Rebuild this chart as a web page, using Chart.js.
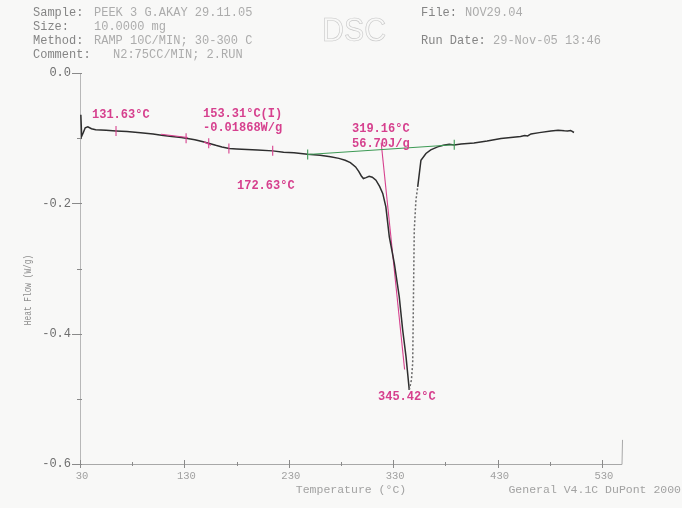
<!DOCTYPE html>
<html>
<head>
<meta charset="utf-8">
<script src="https://cdn.jsdelivr.net/npm/chart.js@4.4.1/dist/chart.umd.min.js"></script>
<style>
html,body{margin:0;padding:0;background:#f8f8f7}
#wrap{position:relative;width:682px;height:508px}
</style>
</head>
<body>
<div id="wrap"><canvas id="dsc"></canvas></div>
<script>
// ---- DSC run data: temperature (°C) vs heat flow (W/g) ----
const temps=[30.8,31.6,33.0,35.0,37.5,41,45,55,64.5,75,88,100,108,118,127,133,140,147,154,160,166,173,180,190,200,214.6,225,235,248,260,270,278,284,289,294,297,299.5,301.5,304,307,310,313.5,317,320,323,326.3,331.1,335.8,339.1,342.3,345.42,347.5,348.7,349.4,350.2,351.8,353.5,356.6,361.4,366,372.6,378,383.7,388.5,395,407.4,420,433.3,445,452,456,458.8,462,470,481.1,488,494,497.1,500,503.2];
const heatFlow=[-0.064,-0.097,-0.092,-0.084,-0.0825,-0.0855,-0.0870,-0.0878,-0.0889,-0.0898,-0.0917,-0.0935,-0.0955,-0.0975,-0.0990,-0.1005,-0.1025,-0.1050,-0.1082,-0.1110,-0.1135,-0.1159,-0.1165,-0.1174,-0.1180,-0.1195,-0.1215,-0.1225,-0.1246,-0.1261,-0.1285,-0.1310,-0.1340,-0.1375,-0.1441,-0.1510,-0.1580,-0.1620,-0.1605,-0.1585,-0.1600,-0.1644,-0.1740,-0.1848,-0.2054,-0.2513,-0.2921,-0.3433,-0.3943,-0.4352,-0.4863,-0.4709,-0.4449,-0.3483,-0.2411,-0.1950,-0.1747,-0.1338,-0.1235,-0.1180,-0.1134,-0.1110,-0.1093,-0.1105,-0.1090,-0.1073,-0.1045,-0.1005,-0.0985,-0.0975,-0.0960,-0.0965,-0.0935,-0.0915,-0.0889,-0.0880,-0.0887,-0.0889,-0.0882,-0.0913];

// melting peak integration baseline (green)
const baseT=[248.1,388.5];
const baseQ=[-0.1250,-0.1100];
// onset tangent (magenta)
const onsetT=[318.5,340.95];
const onsetQ=[-0.107,-0.455];
// glass transition tangents
const tgTanA_T=[107.6,133.2], tgTanA_Q=[-0.0940,-0.0990];
const tgTanB_T=[148.8,155.5], tgTanB_Q=[-0.1057,-0.1108];
// analysis cursors
const tgCursors=[64.5,131.63,153.31,172.63,214.6];
const peakCursors=[248.1,388.5];

// axes
const xMajor=[30,130,230,330,430,530];
const xMinor=[80,180,280,380,480];
const yMajor=[0,-0.2,-0.4,-0.6];
const yMajorLabels=['0.0','-0.2','-0.4','-0.6'];
const yMinor=[-0.1,-0.3,-0.5];

const MAGENTA='#d6408e', GREEN='#3d9a55', INK='#2e2e2e';
const MONO='"Liberation Mono","DejaVu Sans Mono",monospace';

function pts(xs,ys){return xs.map((x,i)=>({x,y:ys[i]}))}
function curveAt(t){
  for(let i=1;i<temps.length;i++){
    if(temps[i]>=t){const f=(t-temps[i-1])/(temps[i]-temps[i-1]);return heatFlow[i-1]+f*(heatFlow[i]-heatFlow[i-1])}
  }
  return heatFlow[heatFlow.length-1];
}
function baseAt(t){return baseQ[0]+(t-baseT[0])/(baseT[1]-baseT[0])*(baseQ[1]-baseQ[0])}

const frame={
  id:'frame',
  beforeDatasetsDraw(chart){
    const c=chart.ctx,xs=chart.scales.x,ys=chart.scales.y;
    const L=xs.getPixelForValue(30),R=xs.right,T=ys.getPixelForValue(0),B=ys.getPixelForValue(-0.6);
    c.save();
    // left axis
    c.strokeStyle='#b8b8b8';c.lineWidth=1;
    c.beginPath();c.moveTo(L+0.5,T);c.lineTo(L+0.5,B);c.stroke();
    // bottom axis + short right edge
    c.strokeStyle='#a8a8a8';
    c.beginPath();c.moveTo(L,B+0.5);c.lineTo(R,B+0.5);c.lineTo(R+0.5,ys.getPixelForValue(-0.563));c.stroke();
    // y ticks
    c.strokeStyle='#8a8a8a';
    yMajor.forEach(v=>{const y=Math.round(ys.getPixelForValue(v))+0.5;c.beginPath();c.moveTo(L-8,y);c.lineTo(L+2,y);c.stroke()});
    yMinor.forEach(v=>{const y=Math.round(ys.getPixelForValue(v))+0.5;c.beginPath();c.moveTo(L-3,y);c.lineTo(L+2,y);c.stroke()});
    // x ticks
    xMajor.forEach(v=>{const x=Math.round(xs.getPixelForValue(v))+0.5;c.beginPath();c.moveTo(x,B-4);c.lineTo(x,B+4);c.stroke()});
    xMinor.forEach(v=>{const x=Math.round(xs.getPixelForValue(v))+0.5;c.beginPath();c.moveTo(x,B-2);c.lineTo(x,B+2);c.stroke()});
    // tick labels
    c.font='12px '+MONO;c.fillStyle='#6e6e6e';c.textAlign='right';c.textBaseline='middle';
    yMajor.forEach((v,i)=>c.fillText(yMajorLabels[i],71,ys.getPixelForValue(v)));
    c.font='10.5px '+MONO;c.fillStyle='#a0a0a0';c.textAlign='center';
    xMajor.forEach(v=>c.fillText(String(v),xs.getPixelForValue(v)+2,B+12));
    // axis titles
    c.font='11.5px '+MONO;c.fillStyle='#a2a2a2';
    c.fillText('Temperature (°C)',351,490);
    c.textAlign='right';c.fillText('General V4.1C DuPont 2000',681,490);
    c.save();c.translate(28,290);c.rotate(-Math.PI/2);c.scale(0.68,1);
    c.textAlign='center';c.font='11.5px '+MONO;c.fillStyle='#8e8e8e';c.fillText('Heat Flow (W/g)',0,0);c.restore();
    // header block
    c.textAlign='left';c.font='12px '+MONO;
    const hdr=[['Sample:',33,94,13,'PEEK 3 G.AKAY 29.11.05'],['Size:',33,94,27,'10.0000 mg'],['Method:',33,94,41,'RAMP 10C/MIN; 30-300 C'],['Comment:',33,113,55,'N2:75CC/MIN; 2.RUN'],['File:',421,465,13,'NOV29.04'],['Run Date:',421,493,41,'29-Nov-05 13:46']];
    hdr.forEach(h=>{c.fillStyle='#858585';c.fillText(h[0],h[1],h[3]);c.fillStyle='#acacac';c.fillText(h[4],h[2],h[3])});
    c.save();c.translate(322,32);c.scale(0.98,1.08);
    c.font='31px "Liberation Sans",sans-serif';c.strokeStyle='#c8c8c8';c.lineWidth=0.6;c.strokeText('DSC',0,0);c.restore();
    c.restore();
  },
  afterDatasetsDraw(chart){
    const c=chart.ctx,xs=chart.scales.x,ys=chart.scales.y;
    c.save();c.lineWidth=1.1;
    c.strokeStyle=MAGENTA;
    tgCursors.forEach(t=>{const x=xs.getPixelForValue(t),y=ys.getPixelForValue(curveAt(t));c.beginPath();c.moveTo(x,y-5);c.lineTo(x,y+5);c.stroke()});
    c.strokeStyle=GREEN;
    peakCursors.forEach(t=>{const x=xs.getPixelForValue(t),y=ys.getPixelForValue(baseAt(t));c.beginPath();c.moveTo(x,y-5);c.lineTo(x,y+5);c.stroke()});
    c.font='bold 12px '+MONO;c.fillStyle=MAGENTA;c.textAlign='left';c.textBaseline='middle';
    [['131.63°C',92,115],['153.31°C(I)',203,114],['-0.01868W/g',203,128],['172.63°C',237,185.5],['319.16°C',352,129],['56.70J/g',352,143.5],['345.42°C',378,397]]
      .forEach(l=>c.fillText(l[0],l[1],l[2]));
    c.restore();
  }
};

new Chart(document.getElementById('dsc'),{
  type:'scatter',
  data:{datasets:[
    {data:pts(baseT,baseQ),showLine:true,borderColor:GREEN,borderWidth:1.1,pointRadius:0},
    {data:pts(tgTanA_T,tgTanA_Q),showLine:true,borderColor:MAGENTA,borderWidth:1.2,pointRadius:0},
    {data:pts(tgTanB_T,tgTanB_Q),showLine:true,borderColor:MAGENTA,borderWidth:1.2,pointRadius:0},
    {data:pts(temps,heatFlow),showLine:true,borderColor:INK,borderWidth:1.5,pointRadius:0,
      segment:{
        borderDash:ctx=>(ctx.p0.parsed.x>=345.42&&ctx.p1.parsed.x<=353.6)?[2,2]:undefined,
        borderColor:ctx=>(ctx.p0.parsed.x>=345.42&&ctx.p1.parsed.x<=353.6)?'#6a6a6a':undefined
      }},
    {data:pts(onsetT,onsetQ),showLine:true,borderColor:MAGENTA,borderWidth:1.1,pointRadius:0}
  ]},
  options:{
    responsive:true,maintainAspectRatio:false,animation:false,
    layout:{padding:{left:80,right:60,top:73,bottom:44}},
    plugins:{legend:{display:false},tooltip:{enabled:false}},
    scales:{
      x:{type:'linear',display:false,min:30,max:549.2},
      y:{type:'linear',display:false,min:-0.6,max:0}
    }
  },
  plugins:[frame]
});
</script>
</body>
</html>
